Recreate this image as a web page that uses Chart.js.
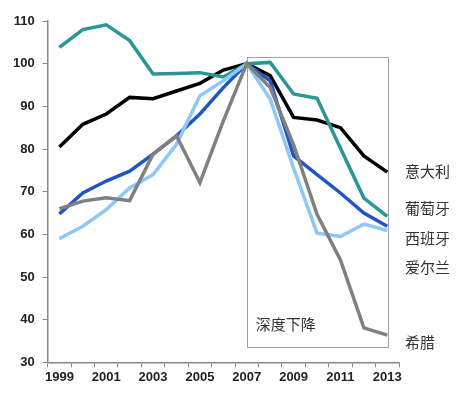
<!DOCTYPE html>
<html>
<head>
<meta charset="utf-8">
<script src="https://cdn.jsdelivr.net/npm/chart.js@4"></script>
<style>
  html, body { margin: 0; padding: 0; background: #fff; }
  #wrap { width: 463px; height: 393px; }
</style>
</head>
<body>
<div id="wrap"><canvas id="chart" width="463" height="393"></canvas></div>
<script>
var years = ['1999', '2000', '2001', '2002', '2003', '2004', '2005', '2006',
             '2007', '2008', '2009', '2010', '2011', '2012', '2013'];

var italy    = [80.5, 85.8, 88.2, 92.1, 91.8, 93.6, 95.4, 98.5, 100, 97.2, 87.4, 86.8, 85.0, 78.4, 74.6];
var portugal = [103.8, 108.0, 109.1, 105.4, 97.6, 97.7, 97.9, 96.9, 100, 100.3, 92.9, 91.9, 80.2, 68.5, 64.2];
var spain    = [64.8, 69.7, 72.5, 74.8, 78.8, 83.1, 88.2, 94.4, 100, 96.0, 78.4, 74.0, 69.7, 65.0, 61.9];
var ireland  = [59.0, 61.9, 65.8, 70.9, 74.0, 81.1, 92.5, 96.0, 100, 91.7, 75.5, 60.3, 59.5, 62.4, 60.9];
var greece   = [66.0, 67.8, 68.6, 67.9, 78.8, 83.1, 72.1, 86.6, 100, 94.4, 81.0, 64.7, 54.0, 38.1, 36.4];

var yTicks = [30, 40, 50, 60, 70, 80, 90, 100, 110];

// labels on the right and where they sit (in y values)
var endNames  = ['意大利', '葡萄牙', '西班牙', '爱尔兰', '希腊'];
var endValues = [74.8, 66.1, 59.1, 52.2, 34.8];

// the "deep decline" box
var boxFrom = '2007', boxTo = '2013';
var boxTop = 101.5, boxBottom = 33.5;
var boxText = '深度下降';
var boxTextValue = 39;

var boxPlugin = {
  id: 'boxAndLabels',
  beforeDatasetsDraw: function (chart) {
    var ctx = chart.ctx;
    var x = chart.scales.x, y = chart.scales.y;
    var x0 = x.getPixelForValue(years.indexOf(boxFrom));
    var x1 = x.getPixelForValue(years.indexOf(boxTo));
    var y0 = y.getPixelForValue(boxTop);
    var y1 = y.getPixelForValue(boxBottom);
    ctx.save();
    ctx.strokeStyle = '#a0a0a0';
    ctx.lineWidth = 1;
    ctx.strokeRect(Math.round(x0) + 0.5, Math.round(y0) + 0.5, Math.round(x1 - x0), Math.round(y1 - y0));
    ctx.fillStyle = '#333';
    ctx.font = '15px "Noto Sans CJK SC"';
    ctx.textBaseline = 'middle';
    ctx.fillText(boxText, x0 + 9, y.getPixelForValue(boxTextValue));
    ctx.restore();
  },
  afterDatasetsDraw: function (chart) {
    var ctx = chart.ctx;
    var y = chart.scales.y;
    ctx.save();
    ctx.fillStyle = '#333';
    ctx.font = '15px "Noto Sans CJK SC"';
    ctx.textBaseline = 'middle';
    for (var i = 0; i < endNames.length; i++) {
      ctx.fillText(endNames[i], chart.chartArea.right + 6, y.getPixelForValue(endValues[i]));
    }
    ctx.restore();
  }
};

function series(data, color) {
  return {
    data: data,
    borderColor: color,
    borderWidth: 3.5,
    pointRadius: 0,
    tension: 0,
    fill: false
  };
}

new Chart(document.getElementById('chart'), {
  type: 'line',
  data: {
    labels: years,
    datasets: [
      series(greece, '#808080'),
      series(ireland, '#8fc8f6'),
      series(spain, '#2155c2'),
      series(portugal, '#2a9697'),
      series(italy, '#000000')
    ]
  },
  options: {
    responsive: false,
    animation: false,
    layout: { padding: { top: 21, right: 64, left: 5, bottom: 6 } },
    plugins: {
      legend: { display: false },
      tooltip: { enabled: false }
    },
    scales: {
      x: {
        type: 'category',
        offset: true,
        grid: { offset: true, drawOnChartArea: false, color: '#888', tickLength: 5 },
        border: { color: '#888', width: 1.5 },
        ticks: {
          autoSkip: false,
          maxRotation: 0,
          color: '#222',
          padding: 2,
          font: { family: '"Liberation Sans", Arial', size: 13, weight: 'bold' },
          callback: function (v, i) { return i % 2 === 0 ? years[i] : ''; }
        }
      },
      y: {
        min: 30,
        max: 110,
        afterBuildTicks: function (axis) {
          axis.ticks = yTicks.map(function (v) { return { value: v }; });
        },
        grid: { drawOnChartArea: false, color: '#888', tickLength: 5 },
        border: { color: '#888', width: 1.5 },
        ticks: {
          color: '#222',
          padding: 8,
          font: { family: '"Liberation Sans", Arial', size: 13, weight: 'bold' }
        }
      }
    }
  },
  plugins: [boxPlugin]
});
</script>
</body>
</html>
